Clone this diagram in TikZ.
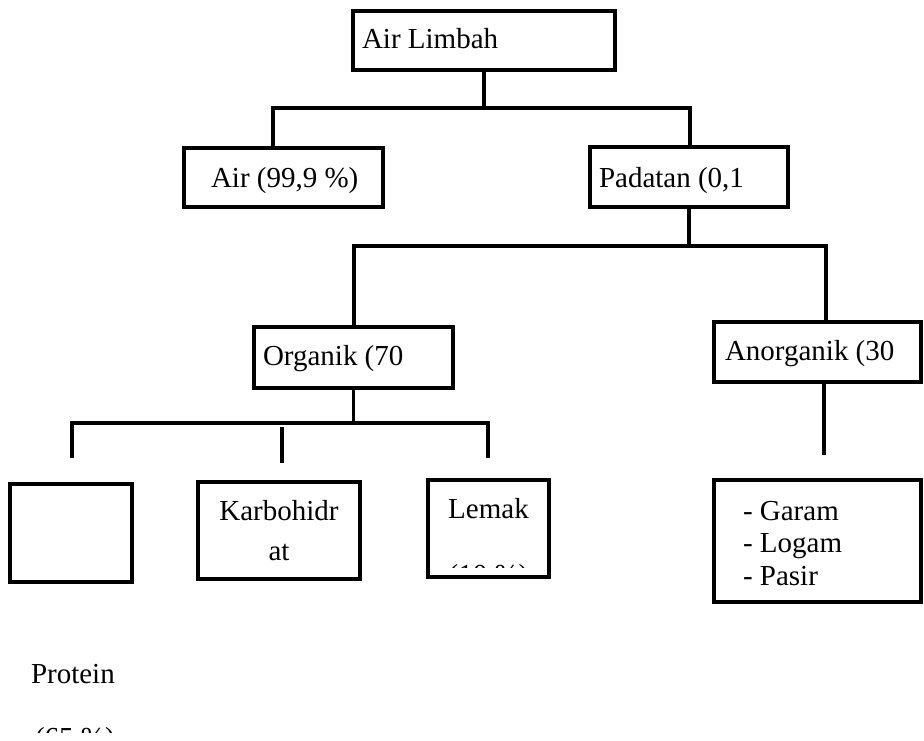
\documentclass[tikz,border=0pt]{standalone}
\usepackage{fontspec}
\setmainfont{Liberation Serif}
\begin{document}
\begin{tikzpicture}[x=1pt,y=-1pt,
  box/.style={draw, line width=3.2pt, inner sep=0pt, outer sep=0pt},
  conn/.style={line width=3.2pt, line join=miter},
  txt/.style={inner sep=0pt, outer sep=0pt, font=\fontsize{29}{33}\selectfont, anchor=base west},
  ctxt/.style={txt, anchor=base}]
\useasboundingbox (0,0) rectangle (924,740);
% boxes
\node[box, minimum width=262pt, minimum height=59pt] (lim) at (484,40.5) {};
\node[box, minimum width=199pt, minimum height=59pt] (air) at (283.5,177.5) {};
\node[box, minimum width=198pt, minimum height=60pt] (pad) at (689,177) {};
\node[box, minimum width=199pt, minimum height=61pt] (org) at (353.5,357.5) {};
\node[box, minimum width=207pt, minimum height=60pt] (anorg) at (817.5,352) {};
\node[box, minimum width=122pt, minimum height=98pt] (prot) at (71,533) {};
\node[box, minimum width=162pt, minimum height=97pt] (karb) at (279,530.5) {};
\node[box, minimum width=121pt, minimum height=97pt] (lemak) at (488.5,528.5) {};
\node[box, minimum width=207pt, minimum height=122pt] (garam) at (817.5,541) {};
% texts
\node[txt] (limt) at (362,48) {Air Limbah};
\node[txt] (airt) at (211,187) {Air (99,9 \%)};
\node[txt] (padt) at (599,187) {Padatan (0,1};
\node[txt] (orgt) at (263,365) {Organik (70};
\node[txt] (anorgt) at (725,360) {Anorganik (30};
\node[txt] (gar1) at (743,520) {- Garam};
\node[txt] (gar2) at (743,552) {- Logam};
\node[txt] (gar3) at (743,585) {- Pasir};
\node[ctxt] (karbt1) at (279,520) {Karbohidr};
\node[ctxt] (karbt2) at (279,560) {at};
\node[ctxt] (lemt1) at (488.5,518) {Lemak};
\begin{scope}
  \clip (430,482) rectangle (547,567);
  \node[ctxt] (lemt2) at (488.5,584) {(10 \%)};
\end{scope}
\node[txt] (prott) at (31,683) {Protein};
\begin{scope}
  \clip (0,600) rectangle (924,732);
  \node[txt] (prott2) at (35,747) {(65 \%)};
\end{scope}
% connectors level 1
\coordinate (h1l) at (273,108);
\coordinate (h1r) at (690,108);
\draw[conn] (lim.south) -- (lim.south |- h1l);
\draw[conn] (air.north -| h1l) ++(0,-2) -- (h1l) -- (h1r) -- ([yshift=-2pt]pad.north -| h1r);
% level 2
\coordinate (h2l) at (354,246);
\coordinate (h2r) at (826,246);
\draw[conn] (pad.south) -- (pad.south |- h2l);
\draw[conn] (org.north -| h2l) -- (h2l) -- (h2r) -- (anorg.north -| h2r);
% level 3
\coordinate (h3l) at (72,423);
\coordinate (h3r) at (488,423);
\coordinate (v3l) at (72,458);
\coordinate (v3r) at (488,458);
\coordinate (tA) at (282,427);
\coordinate (tB) at (282,463);
\draw[conn] (org.south) -- (org.south |- h3l);
\draw[conn] (v3l) -- (h3l) -- (h3r) -- (v3r);
\draw[conn] (tA) -- (tB);
% anorganik down
\coordinate (a4) at (824,455);
\draw[conn] (anorg.south -| a4) -- (a4);
\end{tikzpicture}
\end{document}
